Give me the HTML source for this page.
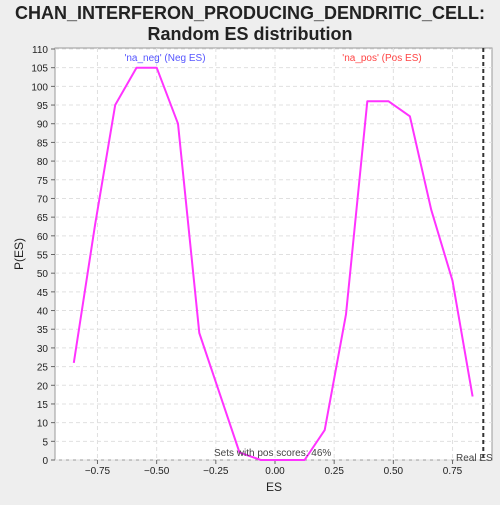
<!DOCTYPE html>
<html><head><meta charset="utf-8"><style>
body{margin:0;background:#eeeeee;font-family:"Liberation Sans","DejaVu Sans",sans-serif}
</style></head><body>
<svg id="chart" width="500" height="500" xmlns="http://www.w3.org/2000/svg">
<rect x="0" y="0" width="500" height="500" fill="#eeeeee"/>
<text x="250" y="19" text-anchor="middle" font-size="18" font-weight="bold" fill="#222">CHAN_INTERFERON_PRODUCING_DENDRITIC_CELL:</text>
<text x="250" y="40" text-anchor="middle" font-size="18" font-weight="bold" fill="#222">Random ES distribution</text>
<rect x="55" y="48" width="437" height="412" fill="#ffffff" stroke="#999"/>
<g id="grid"></g><g id="axes"></g><g id="series"></g>
<text x="165" y="61" text-anchor="middle" font-size="10" fill="#5555ff">'na_neg' (Neg ES)</text>
<text x="382" y="61" text-anchor="middle" font-size="10" fill="#ff4444">'na_pos' (Pos ES)</text>
<text x="214" y="456" font-size="10" fill="#444">Sets with pos scores: 46%</text>
<text x="456" y="461" font-size="10" fill="#444">Real ES</text>
<text x="274" y="491" text-anchor="middle" font-size="12" fill="#222">ES</text>
<text x="23" y="254" text-anchor="middle" font-size="12" fill="#222" transform="rotate(-90 23 254)">P(ES)</text>
</svg>
<script>
const esValues=[-0.85,-0.76,-0.675,-0.585,-0.50,-0.41,-0.32,-0.15,-0.06,0.03,0.125,0.21,0.30,0.39,0.48,0.57,0.66,0.75,0.835];
const pValues=[26,63,95,105,105,90,34,2,0,0,0,8,39,96,96,92,67,48,17];
const xTicks=[-0.75,-0.5,-0.25,0,0.25,0.5,0.75];
const xTickLabels=["\u22120.75","\u22120.50","\u22120.25","0.00","0.25","0.50","0.75"];
const yTicks=[0,5,10,15,20,25,30,35,40,45,50,55,60,65,70,75,80,85,90,95,100,105,110];
const realES=0.88;
const NS="http://www.w3.org/2000/svg";
const xs=v=>275+v*236.7;
const ys=v=>460-v*(411/110);
function mk(tag,attrs,parent,text){const e=document.createElementNS(NS,tag);for(const k in attrs)e.setAttribute(k,attrs[k]);if(text!==undefined)e.textContent=text;parent.appendChild(e);return e;}
const grid=document.getElementById('grid'),axes=document.getElementById('axes'),series=document.getElementById('series');
yTicks.forEach(t=>{const y=ys(t);
 const g=mk('line',{x1:55,x2:492,y1:y,y2:y,stroke:'#e0e0e0','stroke-dasharray':'4,3'},grid);
 
 
 const tk=mk('line',{x1:51,x2:55,y1:y,y2:y,stroke:'#666'},axes);
 
 
 const l=mk('text',{x:48,y:y+4,'text-anchor':'end','font-size':10,fill:'#222'},axes,String(t));
 
 
});
xTicks.forEach((t,i)=>{const x=xs(t);
 const g=mk('line',{x1:x,x2:x,y1:48,y2:460,stroke:'#e0e0e0','stroke-dasharray':'4,3'},grid);
 
 
 const tk=mk('line',{x1:x,x2:x,y1:460,y2:464,stroke:'#666'},axes);
 
 
 const l=mk('text',{x:x,y:474,'text-anchor':'middle','font-size':10,fill:'#222'},axes,xTickLabels[i]);
 
 
});
const pts=esValues.map((v,i)=>xs(v).toFixed(1)+','+ys(pValues[i]).toFixed(1)).join(' ');
const pl=mk('polyline',{points:pts,fill:'none',stroke:'#ff33ff','stroke-width':2,'stroke-linejoin':'round'},series);


const rl=mk('line',{x1:xs(realES),x2:xs(realES),y1:48,y2:460,stroke:'#333','stroke-width':2,'stroke-dasharray':'4,3'},series);


</script>
</body></html>
